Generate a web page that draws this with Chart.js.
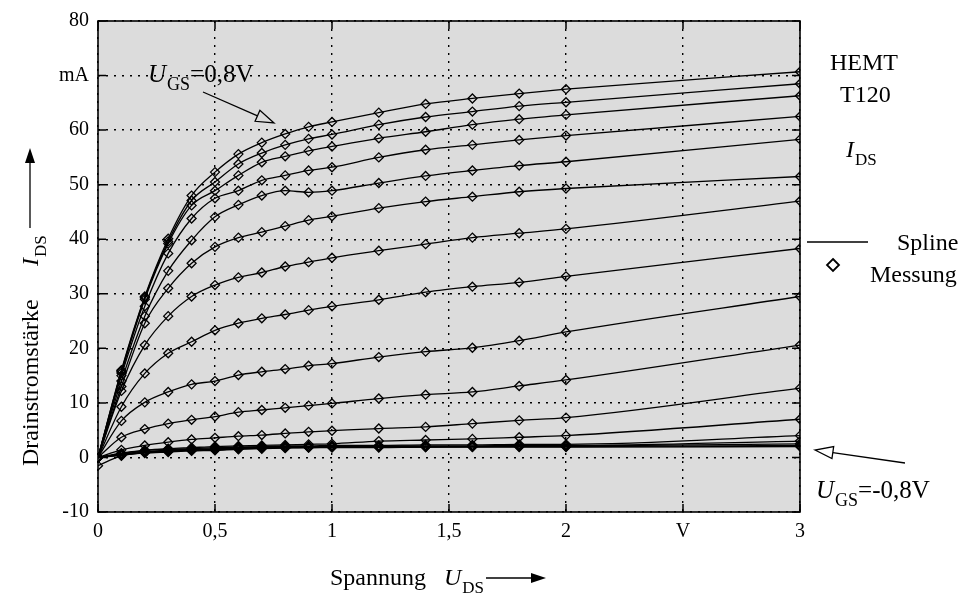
<!DOCTYPE html>
<html>
<head>
<meta charset="utf-8">
<title>HEMT T120 Ausgangskennlinien</title>
<script src="https://cdn.jsdelivr.net/npm/chart.js"></script>
<style>
  body { margin: 0; background: #ffffff; }
  #wrap { width: 963px; height: 594px; }
</style>
</head>
<body>
<div id="wrap"><canvas id="kennlinie" width="963" height="594"></canvas></div>
<script>
// Messpunkte U_DS (V)
const uds = [0, 0.1, 0.2, 0.3, 0.4, 0.5, 0.6, 0.7, 0.8, 0.9, 1.0, 1.2, 1.4, 1.6, 1.8, 2.0, 3.0];

// I_DS (mA) je Gatespannung, von U_GS = 0,8 V bis -0,8 V
const ugsLabels = ['0,8', '0,7', '0,6', '0,5', '0,4', '0,3', '0,2', '0,1', '0',
                   '-0,1', '-0,2', '-0,3', '-0,4', '-0,5', '-0,6', '-0,7', '-0,8'];
const ids_p08 = [0, 16.0, 29.5, 40.1, 48.0, 52.3, 55.6, 57.7, 59.3, 60.6, 61.5, 63.2, 64.8, 65.8, 66.7, 67.5, 70.7];
const ids_p07 = [0, 15.8, 29.3, 39.6, 47.1, 50.5, 53.8, 55.8, 57.3, 58.4, 59.2, 61.0, 62.4, 63.4, 64.4, 65.1, 68.5];
const ids_p06 = [0, 15.5, 29.0, 39.2, 46.2, 48.9, 51.7, 54.1, 55.2, 56.2, 57.0, 58.5, 59.7, 61.0, 62.0, 62.8, 66.3];
const ids_p05 = [0, 15.0, 27.7, 37.4, 43.8, 47.5, 48.9, 50.8, 51.7, 52.6, 53.2, 55.0, 56.4, 57.3, 58.2, 59.0, 62.5];
const ids_p04 = [0, 14.0, 25.9, 34.2, 39.8, 44.1, 46.3, 48.0, 48.9, 48.6, 48.9, 50.3, 51.6, 52.6, 53.5, 54.2, 58.3];
const ids_p03 = [0, 13.0, 24.6, 31.0, 35.6, 38.6, 40.3, 41.3, 42.4, 43.5, 44.2, 45.7, 46.9, 47.8, 48.7, 49.3, 51.5];
const ids_p02 = [0, 12.2, 20.6, 25.9, 29.5, 31.6, 33.0, 33.9, 35.0, 35.8, 36.6, 37.9, 39.1, 40.3, 41.1, 41.9, 47.0];
const ids_p01 = [0, 9.3, 15.4, 19.1, 21.2, 23.3, 24.6, 25.5, 26.2, 27.0, 27.7, 28.9, 30.3, 31.3, 32.1, 33.2, 38.3];
const ids_000 = [0, 6.7, 10.1, 12.0, 13.4, 14.0, 15.1, 15.7, 16.2, 16.8, 17.2, 18.4, 19.4, 20.1, 21.4, 23.0, 29.5];
const ids_m01 = [0, 3.7, 5.2, 6.2, 6.9, 7.5, 8.3, 8.7, 9.1, 9.5, 9.9, 10.8, 11.5, 12.0, 13.1, 14.2, 20.6];
const ids_m02 = [0, 1.4, 2.2, 2.8, 3.3, 3.6, 3.9, 4.1, 4.4, 4.7, 4.9, 5.3, 5.6, 6.2, 6.8, 7.3, 12.7];
const ids_m03 = [0, 0.8, 1.3, 1.6, 1.8, 2.0, 2.1, 2.2, 2.3, 2.4, 2.5, 3.0, 3.2, 3.4, 3.7, 4.0, 7.0];
const ids_m04 = [0, 0.7, 1.3, 1.5, 1.6, 1.8, 1.9, 2.0, 2.1, 2.1, 2.2, 2.2, 2.3, 2.3, 2.4, 2.4, 4.0];
const ids_m05 = [0, 0.6, 1.1, 1.3, 1.5, 1.6, 1.8, 1.9, 2.0, 2.0, 2.0, 2.1, 2.1, 2.1, 2.2, 2.2, 3.0];
const ids_m06 = [0, 0.5, 1.0, 1.2, 1.4, 1.5, 1.7, 1.8, 1.9, 1.9, 2.0, 2.0, 2.0, 2.0, 2.1, 2.1, 2.5];
const ids_m07 = [0, 0.4, 0.9, 1.1, 1.3, 1.4, 1.6, 1.7, 1.8, 1.8, 1.9, 1.9, 1.9, 2.0, 2.0, 2.0, 2.2];
const ids_m08 = [-1.5, 0.3, 0.8, 1.0, 1.2, 1.3, 1.5, 1.6, 1.7, 1.8, 1.8, 1.8, 1.9, 1.9, 1.9, 1.9, 2.0];

// Achsbeschriftung
const xTickLabels = ['0', '0,5', '1', '1,5', '2', 'V', '3'];
const yTickLabels = ['-10', '0', '10', '20', '30', '40', '50', '60', 'mA', '80'];

const curves = [ids_p08, ids_p07, ids_p06, ids_p05, ids_p04, ids_p03, ids_p02, ids_p01, ids_000,
                ids_m01, ids_m02, ids_m03, ids_m04, ids_m05, ids_m06, ids_m07, ids_m08];

const FONT = '"Liberation Serif", "Times New Roman", serif';
const PLOT_BG = '#dcdcdc';

// Text mit Index, z.B. U_GS
function subText(ctx, x, y, main, idx, rest, size) {
  ctx.fillStyle = '#000';
  ctx.font = 'italic ' + size + 'px ' + FONT;
  ctx.fillText(main, x, y);
  x += ctx.measureText(main).width + 1;
  const s = Math.round(size * 0.72);
  ctx.font = s + 'px ' + FONT;
  ctx.fillText(idx, x, y + size * 0.32);
  x += ctx.measureText(idx).width;
  if (rest) {
    ctx.font = size + 'px ' + FONT;
    ctx.fillText(rest, x, y);
  }
}

function solidArrow(ctx, x1, y1, x2, y2) {
  const a = Math.atan2(y2 - y1, x2 - x1);
  const len = 15, w = 5;
  ctx.fillStyle = '#000';
  ctx.beginPath();
  ctx.moveTo(x1, y1);
  ctx.lineTo(x2 - len * Math.cos(a), y2 - len * Math.sin(a));
  ctx.stroke();
  ctx.beginPath();
  ctx.moveTo(x2, y2);
  ctx.lineTo(x2 - len * Math.cos(a) + w * Math.sin(a), y2 - len * Math.sin(a) - w * Math.cos(a));
  ctx.lineTo(x2 - len * Math.cos(a) - w * Math.sin(a), y2 - len * Math.sin(a) + w * Math.cos(a));
  ctx.closePath();
  ctx.fill();
}

function openArrow(ctx, x1, y1, x2, y2, fill) {
  const a = Math.atan2(y2 - y1, x2 - x1);
  const len = 18, w = 6;
  const bx = x2 - len * Math.cos(a), by = y2 - len * Math.sin(a);
  ctx.beginPath();
  ctx.moveTo(x1, y1);
  ctx.lineTo(bx, by);
  ctx.stroke();
  ctx.beginPath();
  ctx.moveTo(x2, y2);
  ctx.lineTo(bx + w * Math.sin(a), by - w * Math.cos(a));
  ctx.lineTo(bx - w * Math.sin(a), by + w * Math.cos(a));
  ctx.closePath();
  ctx.fillStyle = fill;
  ctx.fill();
  ctx.stroke();
  ctx.fillStyle = '#000';
}

const framePlugin = {
  id: 'frame',
  beforeDraw(chart) {
    const {ctx, chartArea: a} = chart;
    ctx.save();
    ctx.fillStyle = PLOT_BG;
    ctx.fillRect(a.left, a.top, a.right - a.left, a.bottom - a.top);
    ctx.restore();
  },
  afterDraw(chart) {
    const {ctx, chartArea: a, scales} = chart;
    ctx.save();
    ctx.strokeStyle = '#000';
    ctx.fillStyle = '#000';
    ctx.lineWidth = 1.6;
    ctx.strokeRect(a.left, a.top, a.right - a.left, a.bottom - a.top);

    // kurze Striche nach innen
    ctx.lineWidth = 1.5;
    ctx.beginPath();
    scales.x.ticks.forEach(t => {
      const px = scales.x.getPixelForValue(t.value);
      ctx.moveTo(px, a.bottom); ctx.lineTo(px, a.bottom - 8);
      ctx.moveTo(px, a.top); ctx.lineTo(px, a.top + 8);
    });
    scales.y.ticks.forEach(t => {
      const py = scales.y.getPixelForValue(t.value);
      ctx.moveTo(a.left, py); ctx.lineTo(a.left + 8, py);
      ctx.moveTo(a.right, py); ctx.lineTo(a.right - 8, py);
    });
    ctx.stroke();

    ctx.textBaseline = 'alphabetic';
    ctx.textAlign = 'left';
    ctx.lineWidth = 1.3;

    // y-Achsentitel, gedreht
    ctx.save();
    ctx.translate(38, 466);
    ctx.rotate(-Math.PI / 2);
    ctx.font = '24px ' + FONT;
    ctx.fillText('Drainstromstärke', 0, 0);
    subText(ctx, 200, 0, 'I', 'DS', '', 24);
    solidArrow(ctx, 238, -8, 318, -8);
    ctx.restore();

    // x-Achsentitel
    ctx.font = '24px ' + FONT;
    ctx.fillText('Spannung', 330, 585);
    subText(ctx, 444, 585, 'U', 'DS', '', 24);
    solidArrow(ctx, 486, 578, 546, 578);

    // Beschriftung rechts
    ctx.font = '24px ' + FONT;
    ctx.fillText('HEMT', 830, 70);
    ctx.fillText('T120', 840, 102);
    subText(ctx, 846, 157, 'I', 'DS', '', 24);

    // Legende
    ctx.beginPath();
    ctx.moveTo(807, 242); ctx.lineTo(868, 242);
    ctx.stroke();
    ctx.font = '24px ' + FONT;
    ctx.fillText('Spline', 897, 250);
    ctx.beginPath();
    ctx.moveTo(833, 259); ctx.lineTo(839, 265); ctx.lineTo(833, 271); ctx.lineTo(827, 265);
    ctx.closePath();
    ctx.lineWidth = 1.8;
    ctx.stroke();
    ctx.fillText('Messung', 870, 282);

    // U_GS Hinweise
    ctx.lineWidth = 1.3;
    subText(ctx, 148, 82, 'U', 'GS', '=0,8V', 25);
    openArrow(ctx, 203, 92, 274, 123, PLOT_BG);
    subText(ctx, 816, 498, 'U', 'GS', '=-0,8V', 25);
    openArrow(ctx, 905, 463, 815, 450, '#ffffff');

    ctx.restore();
  }
};

new Chart(document.getElementById('kennlinie'), {
  type: 'line',
  data: {
    datasets: curves.map((ys, k) => ({
      label: 'U_GS = ' + ugsLabels[k] + ' V',
      data: uds.map((x, i) => ({x: x, y: ys[i]})),
      borderColor: '#000',
      borderWidth: 1.3,
      pointStyle: 'rectRot',
      pointRadius: 4.5,
      pointBorderWidth: 1.3,
      pointBorderColor: '#000',
      pointBackgroundColor: 'rgba(0,0,0,0)',
      cubicInterpolationMode: 'monotone',
      fill: false
    }))
  },
  options: {
    responsive: false,
    animation: false,
    events: [],
    layout: { padding: { left: 0, right: 163, top: 16, bottom: 0 } },
    plugins: {
      legend: { display: false },
      tooltip: { enabled: false }
    },
    scales: {
      x: {
        type: 'linear',
        min: 0,
        max: 3,
        afterFit: s => { s.height = 82; },
        ticks: {
          stepSize: 0.5,
          padding: 8,
          color: '#000',
          font: { family: FONT, size: 20 },
          callback: (v, i) => xTickLabels[i]
        },
        grid: { color: '#000', lineWidth: 1.4, drawTicks: false },
        border: { display: false, dash: [2, 6] }
      },
      y: {
        min: -10,
        max: 80,
        afterFit: s => { s.width = 98; },
        ticks: {
          stepSize: 10,
          padding: 9,
          color: '#000',
          font: { family: FONT, size: 20 },
          callback: (v, i) => yTickLabels[i]
        },
        grid: { color: '#000', lineWidth: 1.4, drawTicks: false },
        border: { display: false, dash: [2, 6] }
      }
    }
  },
  plugins: [framePlugin]
});
</script>
</body>
</html>
